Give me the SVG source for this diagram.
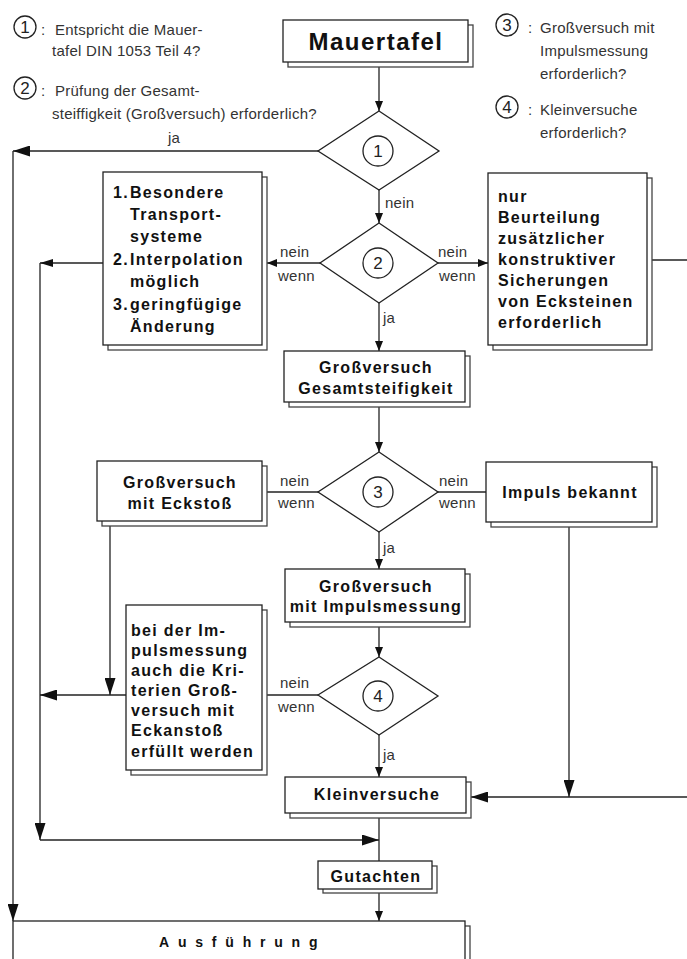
<svg xmlns="http://www.w3.org/2000/svg" width="687" height="959" viewBox="0 0 687 959">
<defs>
<style>
.bg{fill:#fff}
.box{fill:#fff;stroke:#222;stroke-width:1.3}
.sh{fill:#fff;stroke:#444;stroke-width:1.3}
.dia{fill:#fff;stroke:#222;stroke-width:1.3}
.cir{fill:none;stroke:#222;stroke-width:1.3}
.ln{fill:none;stroke:#222;stroke-width:1.3}
.lt{font-family:"Liberation Sans",Arial,sans-serif;font-size:15px;fill:#333;letter-spacing:0.25px}
.num{font-family:"Liberation Sans",Arial,sans-serif;font-size:17px;fill:#222;text-anchor:middle}
.bd{font-family:"Liberation Sans",Arial,sans-serif;font-size:16px;font-weight:bold;fill:#111;letter-spacing:1.3px}
.bc{font-family:"Liberation Sans",Arial,sans-serif;font-size:16px;font-weight:bold;fill:#111;letter-spacing:1.3px;text-anchor:middle}
</style>
<marker id="sm" markerUnits="userSpaceOnUse" markerWidth="10" markerHeight="8" viewBox="0 0 10 8" refX="10" refY="4" orient="auto"><path d="M0,0 L10,4 L0,8 z" fill="#111"/></marker>
<marker id="md" markerUnits="userSpaceOnUse" markerWidth="13" markerHeight="8" viewBox="0 0 13 8" refX="13" refY="4" orient="auto"><path d="M0,0 L13,4 L0,8 z" fill="#111"/></marker>
<marker id="lg" markerUnits="userSpaceOnUse" markerWidth="17" markerHeight="11" viewBox="0 0 17 11" refX="17" refY="5.5" orient="auto"><path d="M0,0 L17,5.5 L0,11 z" fill="#111"/></marker>
</defs>
<rect class="bg" x="0" y="0" width="687" height="959"/>

<g id="legend">
<circle class="cir" cx="25" cy="27" r="11"/><text class="num" x="25" y="33">1</text><text class="lt" x="41" y="35">:</text>
<text class="lt" x="55" y="35">Entspricht die Mauer-</text>
<text class="lt" x="52" y="56">tafel DIN 1053 Teil 4?</text>
<circle class="cir" cx="25" cy="88" r="11"/><text class="num" x="25" y="94">2</text><text class="lt" x="41" y="96">:</text>
<text class="lt" x="55" y="96">Prüfung der Gesamt-</text>
<text class="lt" x="52" y="119">steiffigkeit (Großversuch) erforderlich?</text>
<circle class="cir" cx="507" cy="25" r="11"/><text class="num" x="507" y="31">3</text><text class="lt" x="528" y="33">:</text>
<text class="lt" x="540" y="33">Großversuch mit</text>
<text class="lt" x="540" y="56">Impulsmessung</text>
<text class="lt" x="540" y="79">erforderlich?</text>
<circle class="cir" cx="507" cy="107" r="11"/><text class="num" x="507" y="113">4</text><text class="lt" x="528" y="115">:</text>
<text class="lt" x="540" y="115">Kleinversuche</text>
<text class="lt" x="540" y="138">erforderlich?</text>
</g>

<g id="connectors">
<path class="ln" d="M379,67 V111" marker-end="url(#sm)"/>
<path class="ln" d="M318,151 H13" marker-end="url(#lg)"/>
<path class="ln" d="M13,151 V921" marker-end="url(#lg)"/>
<path class="ln" d="M379,190 V223" marker-end="url(#sm)"/>
<path class="ln" d="M320,263 H267" marker-end="url(#sm)"/>
<path class="ln" d="M103,263 H40" marker-end="url(#md)"/>
<path class="ln" d="M40,263 V840" marker-end="url(#lg)"/>
<path class="ln" d="M40,840 H379" marker-end="url(#lg)"/>
<path class="ln" d="M438,263 H488" marker-end="url(#sm)"/>
<path class="ln" d="M652,260 H687"/>
<path class="ln" d="M379,303 V351" marker-end="url(#sm)"/>
<path class="ln" d="M379,407 V452" marker-end="url(#sm)"/>
<path class="ln" d="M318,492 H267"/>
<path class="ln" d="M438,492 H486"/>
<path class="ln" d="M379,532 V569" marker-end="url(#sm)"/>
<path class="ln" d="M110,525 V695" marker-end="url(#lg)"/>
<path class="ln" d="M379,627 V657" marker-end="url(#sm)"/>
<path class="ln" d="M318,695 H267"/>
<path class="ln" d="M126,695 H40" marker-end="url(#lg)"/>
<path class="ln" d="M379,735 V777" marker-end="url(#sm)"/>
<path class="ln" d="M569,527 V797" marker-end="url(#lg)"/>
<path class="ln" d="M687,797 H471" marker-end="url(#lg)"/>
<path class="ln" d="M379,818 V861"/>
<path class="ln" d="M379,893 V921" marker-end="url(#sm)"/>
<text class="lt" x="168" y="143">ja</text>
<text class="lt" x="385" y="208">nein</text>
<text class="lt" x="280" y="257">nein</text>
<text class="lt" x="278" y="281">wenn</text>
<text class="lt" x="438" y="257">nein</text>
<text class="lt" x="439" y="281">wenn</text>
<text class="lt" x="383" y="323">ja</text>
<text class="lt" x="280" y="486">nein</text>
<text class="lt" x="278" y="508">wenn</text>
<text class="lt" x="439" y="486">nein</text>
<text class="lt" x="439" y="508">wenn</text>
<text class="lt" x="383" y="553">ja</text>
<text class="lt" x="280" y="688">nein</text>
<text class="lt" x="278" y="712">wenn</text>
<text class="lt" x="383" y="760">ja</text>
</g>

<g id="mauertafel">
<rect class="sh" x="288" y="25" width="185" height="42"/>
<rect class="box" x="283" y="20" width="185" height="42"/>
<text x="376" y="50" style="font-family:'Liberation Sans',Arial,sans-serif;font-size:24px;font-weight:bold;fill:#111;letter-spacing:1.5px;text-anchor:middle">Mauertafel</text>
</g>

<g id="d1">
<polygon class="dia" points="379,111 439,151 379,190 318,151"/>
<circle class="cir" cx="378" cy="151" r="15"/><text class="num" x="378" y="157">1</text>
</g>

<g id="d2">
<polygon class="dia" points="379,223 438,263 379,303 320,263"/>
<circle class="cir" cx="378" cy="263" r="15"/><text class="num" x="378" y="269">2</text>
</g>

<g id="box-transport">
<rect class="sh" x="108" y="177" width="159" height="173"/>
<rect class="box" x="103" y="172" width="159" height="173"/>
<text class="bd" x="113" y="198">1.</text><text class="bd" x="130" y="198">Besondere</text>
<text class="bd" x="130" y="220">Transport-</text>
<text class="bd" x="130" y="242">systeme</text>
<text class="bd" x="113" y="265">2.</text><text class="bd" x="130" y="265">Interpolation</text>
<text class="bd" x="130" y="287">möglich</text>
<text class="bd" x="113" y="310">3.</text><text class="bd" x="130" y="310">geringfügige</text>
<text class="bd" x="130" y="332">Änderung</text>
</g>

<g id="box-beurteilung">
<rect class="sh" x="493" y="178" width="159" height="172"/>
<rect class="box" x="488" y="173" width="159" height="172"/>
<text class="bd" x="498" y="202">nur</text>
<text class="bd" x="498" y="223">Beurteilung</text>
<text class="bd" x="498" y="244">zusätzlicher</text>
<text class="bd" x="498" y="265">konstruktiver</text>
<text class="bd" x="498" y="286">Sicherungen</text>
<text class="bd" x="498" y="307">von Ecksteinen</text>
<text class="bd" x="498" y="328">erforderlich</text>
</g>

<g id="box-gesamt">
<rect class="sh" x="289" y="356" width="181" height="51"/>
<rect class="box" x="284" y="351" width="181" height="51"/>
<text class="bc" x="376" y="373">Großversuch</text>
<text class="bc" x="376" y="394">Gesamtsteifigkeit</text>
</g>

<g id="d3">
<polygon class="dia" points="379,452 438,492 379,532 318,492"/>
<circle class="cir" cx="378" cy="492" r="15"/><text class="num" x="378" y="498">3</text>
</g>

<g id="box-eckstoss">
<rect class="sh" x="102" y="466" width="165" height="60"/>
<rect class="box" x="97" y="461" width="165" height="60"/>
<text class="bc" x="180" y="488">Großversuch</text>
<text class="bc" x="180" y="509">mit Eckstoß</text>
</g>

<g id="box-impuls">
<rect class="sh" x="491" y="467" width="166" height="60"/>
<rect class="box" x="486" y="462" width="166" height="60"/>
<text class="bc" x="570" y="498">Impuls bekannt</text>
</g>

<g id="box-impulsmessung">
<rect class="sh" x="290" y="574" width="180" height="53"/>
<rect class="box" x="285" y="569" width="180" height="53"/>
<text class="bc" x="376" y="592">Großversuch</text>
<text class="bc" x="376" y="612">mit Impulsmessung</text>
</g>

<g id="d4">
<polygon class="dia" points="379,657 438,696 379,735 318,695"/>
<circle class="cir" cx="378" cy="696" r="15"/><text class="num" x="378" y="702">4</text>
</g>

<g id="box-kriterien">
<rect class="sh" x="131" y="610" width="136" height="165"/>
<rect class="box" x="126" y="605" width="136" height="165"/>
<text class="bd" x="131" y="636">bei der Im-</text>
<text class="bd" x="131" y="656">pulsmessung</text>
<text class="bd" x="131" y="676">auch die Kri-</text>
<text class="bd" x="131" y="696">terien Groß-</text>
<text class="bd" x="131" y="716">versuch mit</text>
<text class="bd" x="131" y="736">Eckanstoß</text>
<text class="bd" x="131" y="757">erfüllt werden</text>
</g>

<g id="box-klein">
<rect class="sh" x="290" y="782" width="181" height="36"/>
<rect class="box" x="285" y="777" width="181" height="36"/>
<text class="bc" x="377" y="800">Kleinversuche</text>
</g>

<g id="box-gutachten">
<rect class="sh" x="323" y="866" width="114" height="27"/>
<rect class="box" x="318" y="861" width="114" height="28"/>
<text class="bc" x="376" y="882">Gutachten</text>
</g>

<g id="box-ausfuehrung">
<rect class="sh" x="18" y="926" width="452" height="40"/>
<rect class="box" x="13" y="921" width="452" height="40"/>
<text x="159" y="947" style="font-family:'Liberation Sans',Arial,sans-serif;font-size:14px;font-weight:bold;fill:#111;letter-spacing:8.8px">Ausführung</text>
</g>
</svg>
